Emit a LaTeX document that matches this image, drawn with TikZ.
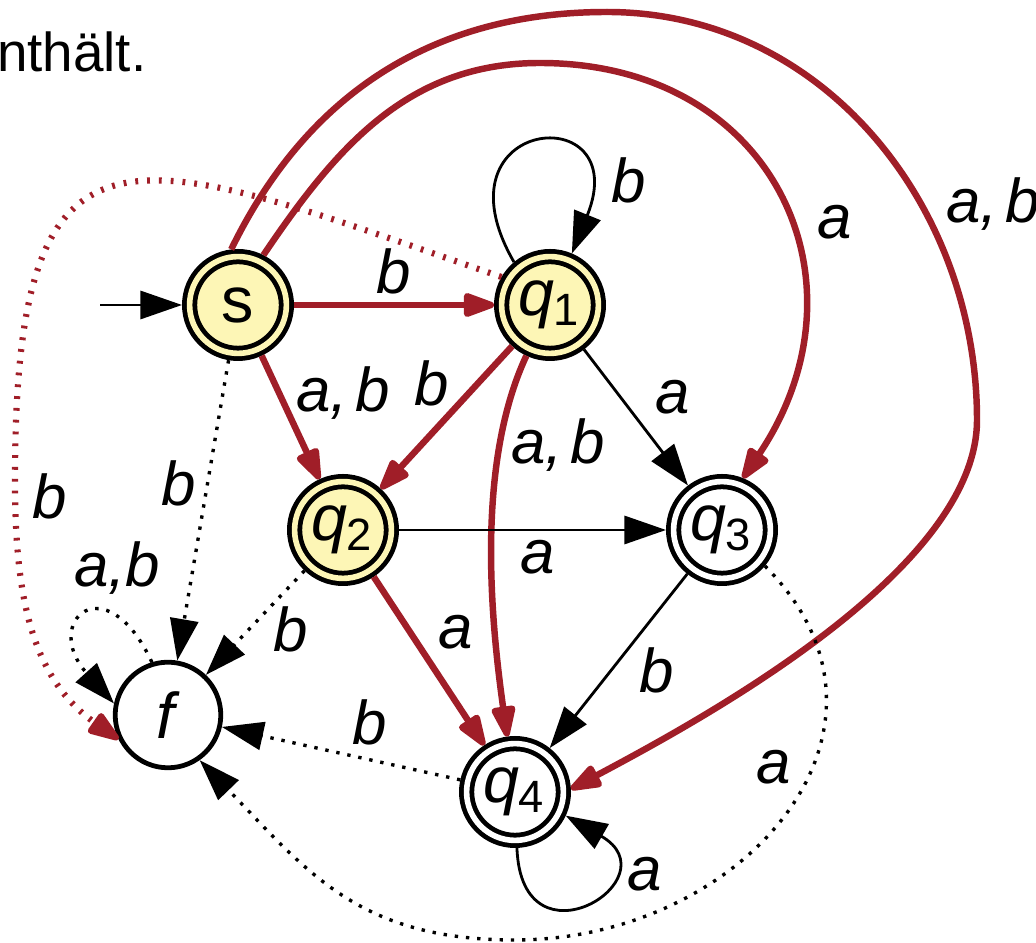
\documentclass[tikz,border=0pt]{standalone}
\usepackage{fontspec}
\setmainfont{Liberation Sans}
\usetikzlibrary{arrows.meta}
\definecolor{hitred}{HTML}{A01E28}
\definecolor{seenfill}{HTML}{FDF6B6}
\tikzset{
  zst/.style={circle, draw, line width=0.85pt, minimum size=6.6mm, inner sep=0pt,
    font=\fontsize{11.5}{13}\selectfont},
  fin/.style={zst, minimum size=6.05mm, double=white, double distance=1.0pt, outer sep=1.35pt},
  seen/.style={fin, fill=seenfill, double=seenfill},
  lab/.style={font=\fontsize{11}{13}\selectfont\itshape, inner sep=0pt, text=black},
  tr/.style={line width=0.5pt, -{Triangle[length=7.4pt,width=5pt]}},
  hit/.style={hitred, line width=1.15pt, -{Triangle[length=6.6pt,width=4.4pt,round]}},
  dead/.style={tr, line width=0.6pt, dash pattern=on 0.6pt off 1.4pt},
  deadhit/.style={hit, line width=1.1pt, dash pattern=on 0.5pt off 1.6pt}
}
\newcommand{\ab}{a,\hspace{0.12em}b}
\begin{document}
\begin{tikzpicture}[x=0.0625mm, y=0.0625mm]
  \useasboundingbox (0,0) rectangle (1036,-943);
  % Text above
  \node[anchor=base west, inner sep=0pt, font=\fontsize{9.75}{12}\selectfont] (txt) at (-4,-72) {nthält.};
  % States
  \node[seen] (s) at (238,-305) {s};
  \foreach \i/\x/\y/\k in {1/550/-305/seen, 2/343/-530/seen, 3/722/-530/fin, 4/515/-792/fin}
    \node[\k] (q\i) at (\x,\y) {\textit{q}\textsubscript{\i}};
  \node[zst] (f) at (168,-715) {\textit{f}};
  % Help points
  \coordinate (start) at (100,-305);
  \coordinate (topin) at (540,-63);
  \coordinate (topout) at (607,-12);
  \coordinate (rightout) at (977,-420);
  \coordinate (leftway) at (15,-480);
  \coordinate (bottom) at (515,-940);
  % Start
  \draw[tr] (start) -- (s);
  % Red transitions
  \draw[hit] (s) -- node[lab, above=1.4pt] {b} (q1);
  \draw[hit] (s) -- node[lab, pos=0.3, right=2.5pt] {\ab} (q2);
  \draw[hit] (q1) -- node[lab, pos=0.45, above left=0.2pt] {b} (q2);
  \draw[hit] (q1.245) to[out=245, in=98, looseness=0.8]
    node[lab, pos=0.3, anchor=base west, xshift=2pt] {\ab} (q4.98);
  \draw[hit] (q2) -- node[lab, pos=0.49, above right=1.3pt] {a} (q4);
  \draw[hit] (s.63) to[out=56, in=180] (topin)
    to[out=0, in=56, looseness=1.3] node[lab, pos=0.55, right=4.5pt] {a} (q3.68);
  \draw[hit] (s.97) to[out=64, in=180] (topout)
    to[out=0, in=90] node[lab, pos=0.64, right=3.9pt] {\ab} (rightout)
    to[out=-90, in=28, looseness=0.7] (q4.3);
  \draw[deadhit] (q1.150) to[out=161, in=90, looseness=1.9] (leftway)
    to[out=-90, in=145] node[lab, pos=0.05, right=2.5pt] {b} (f.206);
  % Black transitions
  \draw[tr] (q1) -- node[lab, pos=0.57, above right=2pt] {a} (q3);
  \draw[tr] (q2) -- node[lab, pos=0.52, below=1.5pt] {a} (q3);
  \draw[tr] (q3) -- node[lab, pos=0.39, below right=0.85pt] {b} (q4);
  \draw[tr] (q1.130) to[out=120, in=68, looseness=7.4]
    node[lab, pos=0.8, right=5pt] {b} (q1.67);
  \draw[tr] (q4.-88) to[out=-88, in=-30, looseness=5.5]
    node[lab, pos=0.7, right=4pt] {a} (q4.-25);
  % Dotted transitions to f
  \draw[dead] (s) -- node[lab, pos=0.41, left=1.7pt] {b} (f);
  \draw[dead] (q2) -- node[lab, pos=0.33, below right=0pt] {b} (f);
  \draw[dead] (q4) -- node[lab, pos=0.38, above=2.3pt] {b} (f);
  \draw[dead] (f.107) to[out=115, in=132, looseness=5]
    node[lab, pos=0.35, above=2.5pt, xshift=2.5pt] {a,b} (f.168);
  \draw[dead] (q3.-40) to[out=-45, in=0, looseness=1.3] node[lab, pos=0.4, left=3.5pt] {a} (bottom)
    to[out=180, in=-46, looseness=1.1] (f.-55);
\end{tikzpicture}
\end{document}
